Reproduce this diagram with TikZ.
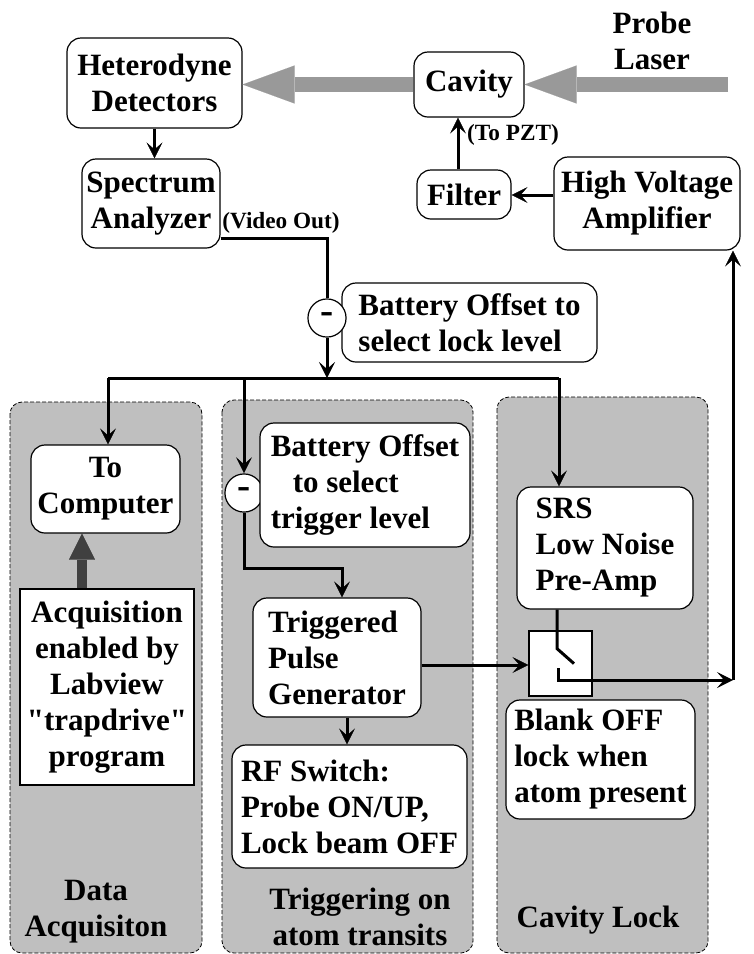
\documentclass[tikz,border=0pt]{standalone}
\usepackage{fontspec}
\setmainfont{Liberation Serif}
\newfontfamily\tb{Liberation Serif Bold}[Ligatures=NoCommon]
\usetikzlibrary{arrows.meta,calc}

\begin{document}
\begin{tikzpicture}[x=1pt,y=-1pt,
  txt/.style={font=\fontsize{31}{36}\selectfont\bfseries},
  txb/.style={font=\tb\fontsize{31}{36}\selectfont},
  small/.style={txt, scale=0.75, transform shape, inner sep=0pt},
  box/.style={txt, draw, line width=1.2pt, rounded corners=14pt, fill=white, inner sep=0pt, align=center},
  lbox/.style={box, align=left},
  sqbox/.style={box, rounded corners=0pt},
  panel/.style={draw, dash pattern=on 4pt off 2pt, line width=0.8pt, rounded corners=12pt, fill=black!25},
  dot/.style={txt, circle, draw, line width=1.2pt, fill=white, minimum size=30pt, inner sep=0pt,
              scale=1.27, transform shape},
  wire/.style={line width=3pt},
  conn/.style={wire, -{Stealth[length=16pt,width=16pt,inset=7pt,line width=0.5pt]}},
  beam/.style={line width=15pt, black!40, -{Triangle[length=52pt,width=38pt,line width=0.1pt]}},
  fatarrow/.style={line width=10pt, black!75, -{Triangle[length=26pt,width=26pt,line width=0.1pt]}},
  caption/.style={txt, align=center, inner sep=0pt}
]
\useasboundingbox (0,0) rectangle (754,954);

% background panels for the three subsystems
\path[panel] (10,402) rectangle (202,953);
\path[panel] (222,400) rectangle (473,953);
\path[panel] (497,397) rectangle (708,953);

% optical path and lock electronics
\node[box, txb, minimum width=175pt, minimum height=90pt] (het) at (154.5,83) {Heterodyne\\Detectors};
\node[box, minimum width=110pt, minimum height=65pt] (cav) at (469,84.5) {Cavity};
\node[caption] (probe) at (652,41) {Probe\\Laser};
\node[box, txb, minimum width=138pt, minimum height=89pt] (spec) at (151,203.5) {Spectrum\\Analyzer};
\node[box, minimum width=94pt, minimum height=49pt] (filter) at (464,194.5) {Filter};
\node[box, minimum width=186pt, minimum height=93pt] (hv) at (647,203.5) {High Voltage\\Amplifier};
\node[lbox, txb, minimum width=255pt, minimum height=79pt] (lockoff) at (469.5,322.5) {Battery Offset to\\select lock level};
\node[dot] (c1) at (327,318) {-};
\node[small] (pzt) at (513,135) {(To PZT)};
\node[small] (vout) at (281,223) {(Video Out)};

% data acquisition
\node[box, minimum width=149pt, minimum height=88pt] (comp) at (105.5,489) {To\\Computer};
\node[sqbox, txb, minimum width=174pt, minimum height=196pt] (acq) at (107,687)
  {Acquisition\\enabled by\\Labview\\"trapdrive"\\program};
\node[caption, txb] (capdata) at (96,912) {Data\\Acquisiton};

% triggering
\node[dot] (c2) at (244,493) {-};
\node[lbox, txb, minimum width=210pt, minimum height=124pt] (trigoff) at (365,485)
  {Battery Offset\\\hspace*{22pt}to select\\trigger level};
\node[lbox, minimum width=168pt, minimum height=119pt] (tpg) at (337,657.5) {Triggered\\Pulse\\Generator};
\node[lbox, txb, minimum width=235pt, minimum height=123pt] (rf) at (349.5,806.5)
  {RF Switch:\\Probe ON/UP,\\Lock beam OFF};
\node[caption] (captrig) at (360,917) {Triggering on\\atom transits};

% cavity lock
\node[lbox, minimum width=176pt, minimum height=122pt] (srs) at (605,548) {SRS\\Low Noise\\Pre-Amp};
\node[draw, line width=1.2pt, fill=white, minimum width=63pt, minimum height=65pt, inner sep=0pt] (sw) at (560.5,663.5) {};
\node[lbox, txb, minimum width=189pt, minimum height=119pt] (blank) at (600.5,759.5)
  {Blank OFF\\lock when\\atom present};
\node[txb, anchor=base, inner sep=0pt] (caplock) at (598,927) {Cavity Lock};

% laser beam
\coordinate (laser) at (728,84.5);
\draw[beam] (laser) -- (cav.east);
\draw[beam] (cav.west) -- (cav.west -| het.east);

% signal chain at the top
\draw[conn] (het.south) -- (het.south |- spec.north);
\draw[wire] ([yshift=-34.5pt]spec.east) -| (c1.north);
\coordinate (busL) at (108,378);
\coordinate (busR) at (559,378);
\draw[conn] (c1.south) -- (c1.south |- busL);
\draw[wire] (busL) -- (busR);
\draw[conn] ([yshift=8.5pt]hv.west) -- ([yshift=8.5pt]hv.west -| filter.east);
\draw[conn] ([xshift=-6pt]filter.north) -- ([xshift=-6pt]filter.north |- cav.south);

% branches from the bus
\draw[conn] (busL) -- (busL |- comp.north);
\draw[conn] (busL -| c2) -- (c2.north);
\draw[conn] (busR) -- (busR |- srs.north);
\draw[fatarrow] ([xshift=-25pt]acq.north) -- ([xshift=-25pt]acq.north |- comp.south);

% trigger path
\coordinate (tbend) at (342,568);
\draw[conn] (c2.south) |- (tbend) -- (tbend |- tpg.north);
\draw[conn] ([yshift=-7.5pt]tpg.east) -- ([yshift=-7.5pt]tpg.east -| sw.west);
\draw[conn] ([xshift=10pt]tpg.south) -- ([xshift=10pt]tpg.south |- rf.north);

% switch contacts and feedback to the amplifier
\draw[wire] ([xshift=-48pt]srs.south) -- ++(0,39) -- ++(17,15);
\coordinate (swo) at (558,668);
\coordinate (hvin) at (733,680);
\draw[conn] (swo) |- (hvin);
\draw[conn] (hvin) -- (hvin |- hv.south);
\end{tikzpicture}
\end{document}
